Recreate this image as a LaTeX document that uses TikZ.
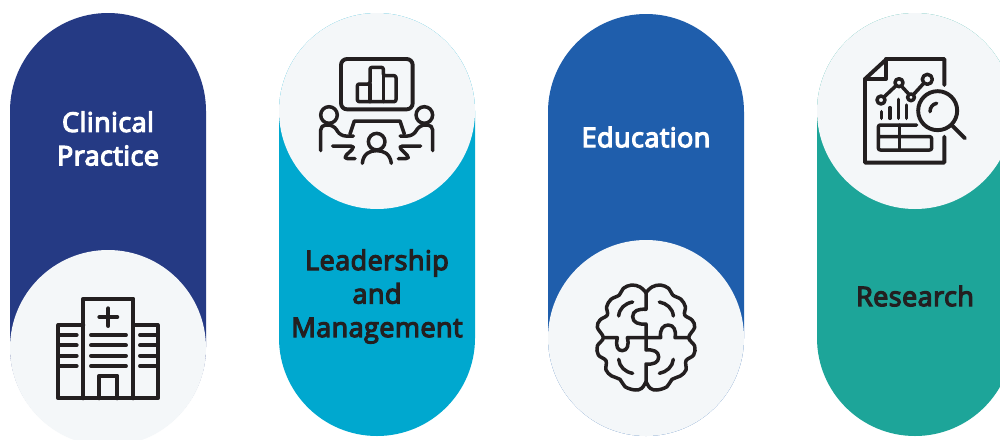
\documentclass[tikz,border=0pt]{standalone}
\usepackage{fontspec}
\setmainfont{Open Sans}[FakeBold=4.5,LetterSpace=1.6]
\definecolor{navy}{HTML}{253A84}
\definecolor{cyanb}{HTML}{00A8CF}
\definecolor{blueb}{HTML}{1F5EAC}
\definecolor{tealb}{HTML}{1DA599}
\definecolor{disc}{HTML}{F4F7F9}
\definecolor{ink}{HTML}{231F20}
\tikzset{
  lbl/.style={align=center,font=\fontsize{27}{33.5}\selectfont,inner sep=0pt},
  icon/.style={draw=ink,line width=3.9pt,line cap=round,line join=round,fill=none},
  thin icon/.style={icon,line width=3.5pt},
  zoomed/.style={x=0.33333pt,y=-0.33333pt}
}
\newcommand{\pillshape}[5]{% x-left, top centre y, bottom centre y, colour, disc centre y
  \fill[#4] (#1,#3) -- (#1,#2) arc[start angle=180,end angle=0,radius=98pt] -- ({#1+196},#3) arc[start angle=0,end angle=-180,radius=98pt] -- cycle;
  \fill[disc] ({#1+98},#5) circle[radius=98pt];
}
\begin{document}
\begin{tikzpicture}[x=1pt,y=-1pt]
\useasboundingbox (0,0) rectangle (1000,439);
\clip (0,0) rectangle (1000,439);
\fill[white] (0,0) rectangle (1000,439);
\pillshape{10}{111}{347}{navy}{348}
\pillshape{279}{111}{338}{cyanb}{111}
\pillshape{548}{112}{338}{blueb}{338}
\pillshape{817}{111}{338}{tealb}{111}

\node[lbl,text=white] (clinical) at (108,138.5) {Clinical\\Practice};
\node[lbl,text=ink] (leader) at (377,296.5) {Leadership\\and\\Management};
\node[lbl,text=white] (edu) at (646,137) {Education};
\node[lbl,text=ink] (research) at (915,296) {Research};

% hospital
\begin{scope}[shift={(0,240)},zoomed]
\draw[icon] (250,475) -- (250,176) -- (400,176) -- (400,475);
\draw[icon] (250,255) -- (175,255) -- (175,475) -- (473,475) -- (473,255) -- (400,255);
\draw[icon] (325,205) -- (325,258) (298,231) -- (352,231);
\foreach \yy in {285,316,347,378}{
  \draw[icon] (175,\yy) -- (230,\yy);
  \draw[icon] (273,\yy) -- (378,\yy);
  \draw[icon] (420,\yy) -- (473,\yy);
}
\draw[icon] (298,475) -- (298,407) -- (352,407) -- (352,475);
\end{scope}

% meeting
\begin{scope}[shift={(270,10)},zoomed]
\draw[icon,rounded corners=6pt] (213,147) rectangle (428,298);
\draw[thin icon,rounded corners=2pt] (262,275) -- (262,222) -- (300,222) -- (300,172) -- (340,172) -- (340,197) -- (378,197) -- (378,275) -- cycle;
\draw[thin icon] (300,222) -- (300,275) (340,197) -- (340,275);
\draw[thin icon] (177,315) circle[radius=8.3pt];
\draw[thin icon] (463,315) circle[radius=8.3pt];
\draw[thin icon] (320,395) circle[radius=8.3pt];
\draw[thin icon] (277,460) .. controls (280,430) and (300,422) .. (320,422) .. controls (340,422) and (360,430) .. (364,460);
\draw[thin icon] (240,372) -- (253,333) -- (390,333) -- (403,372);
\draw[thin icon,rounded corners=5pt] (152,422) -- (152,345) -- (190,345) -- (212,378) -- (250,378);
\draw[thin icon,rounded corners=5pt] (188,408) -- (257,408) -- (218,446) -- (255,446);
\draw[thin icon,rounded corners=5pt] (488,422) -- (488,345) -- (450,345) -- (428,378) -- (390,378);
\draw[thin icon,rounded corners=5pt] (452,408) -- (383,408) -- (422,446) -- (385,446);
\end{scope}

% brain
\begin{scope}[shift={(540,240)},zoomed]
\foreach \sx/\ox in {1/0,-1/636}{
\begin{scope}[shift={(\ox,0)},xscale=\sx]
\draw[thin icon] plot[smooth,tension=0.6] coordinates {(318,158) (300,141) (275,135) (250,145) (238,165) (213,178) (200,200) (202,225) (180,240) (172,262) (190,293) (172,318) (175,345) (198,362) (198,390) (215,408) (240,418) (255,440) (285,450) (305,445) (318,425)};
\end{scope}}
\draw[thin icon] (318,158) -- (318,208) .. controls (296,206) and (278,212) .. (278,230) .. controls (278,248) and (296,254) .. (318,252) -- (318,330) .. controls (340,328) and (356,334) .. (356,351) .. controls (356,368) and (340,374) .. (318,372) -- (318,425);
\draw[thin icon] (190,293) -- (232,293) .. controls (226,320) and (233,332) .. (247,332) .. controls (262,332) and (268,315) .. (262,293) -- (362,293) .. controls (358,268) and (370,255) .. (385,255) .. controls (400,255) and (410,270) .. (405,293) -- (446,293);
\draw[thin icon] (278,186) .. controls (255,190) and (238,205) .. (236,228);
\draw[thin icon] (358,186) .. controls (380,190) and (398,205) .. (400,228);
\draw[thin icon] (236,358) .. controls (238,380) and (255,396) .. (278,400);
\draw[thin icon] (400,358) .. controls (398,380) and (380,396) .. (358,400);
\end{scope}

% research
\begin{scope}[shift={(810,10)},zoomed]
\draw[icon] (403,225) -- (403,147) -- (230,147) -- (165,207) -- (165,458) -- (403,458) -- (403,380);
\draw[icon] (165,207) -- (228,207) -- (228,147);
\draw[thin icon] (213,270) circle[radius=4pt];
\draw[thin icon] (267,218) circle[radius=4pt];
\draw[thin icon] (303,262) circle[radius=3.4pt];
\draw[thin icon] (352,208) circle[radius=5pt];
\draw[thin icon] (222,261) -- (257,228) (275,229) -- (296,252) (311,253) -- (341,220);
\draw[thin icon] (215,305) -- (215,325) (240,293) -- (240,325) (265,268) -- (265,325) (290,285) -- (290,325);
\draw[thin icon,rounded corners=2pt] (320,345) -- (205,345) -- (205,420) -- (365,420) -- (365,380) -- (205,380);
\draw[thin icon] (268,345) -- (268,420);
\draw[icon] (383,302) circle[radius=19.5pt];
\draw[icon] (425,345) -- (465,385);
\draw[thin icon] (360,305) .. controls (360,292) and (368,282) .. (380,280);
\end{scope}
\end{tikzpicture}
\end{document}
